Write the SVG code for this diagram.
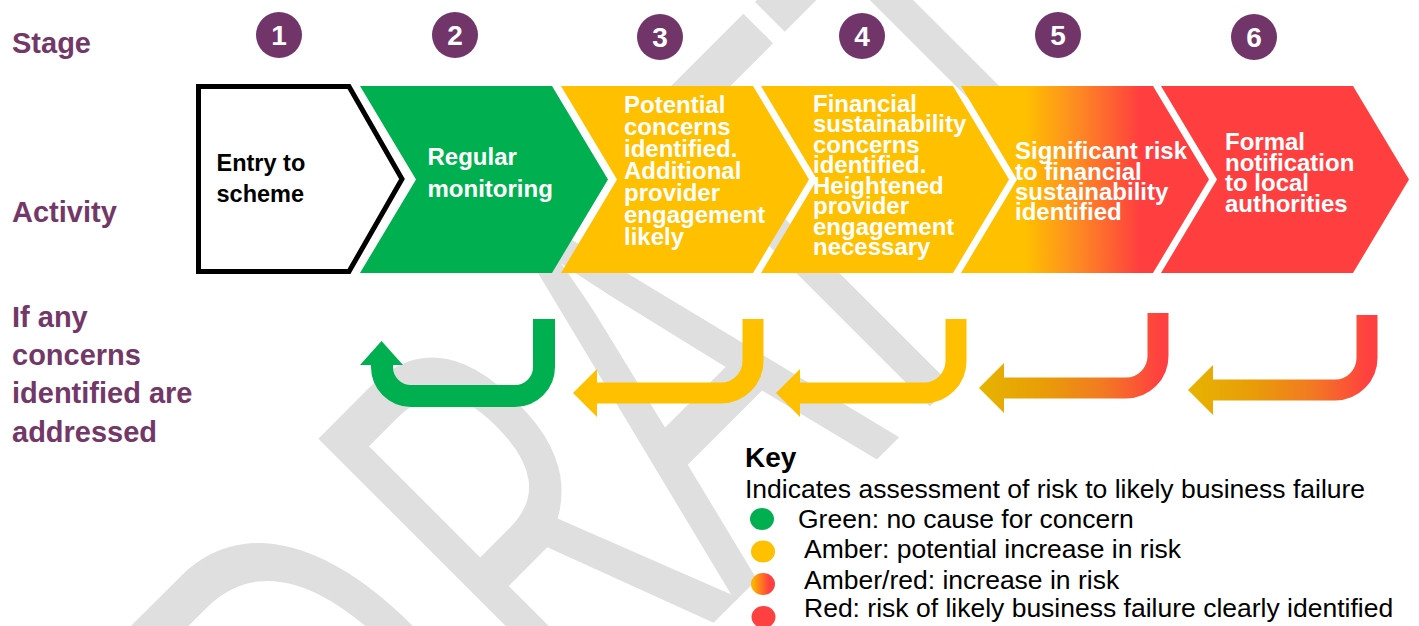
<svg xmlns="http://www.w3.org/2000/svg" width="1419" height="626" viewBox="0 0 1419 626">
  <defs>
    <!-- stage 5 fades from amber into red -->
    <linearGradient id="stage5Fill" x1="0" y1="0" x2="1" y2="0">
      <stop offset="0.26" stop-color="#ffc000"/>
      <stop offset="0.47" stop-color="#fd8a22"/>
      <stop offset="0.72" stop-color="#ff3f3f"/>
    </linearGradient>
    <!-- amber/red return arrows (local coordinates of the stage 5 arrow) -->
    <linearGradient id="returnFade" gradientUnits="userSpaceOnUse" x1="979" y1="0" x2="1169" y2="0">
      <stop offset="0" stop-color="#e6b400"/>
      <stop offset="0.35" stop-color="#e99c08"/>
      <stop offset="0.65" stop-color="#f27a22"/>
      <stop offset="0.95" stop-color="#ff4040"/>
    </linearGradient>
    <linearGradient id="dotFade" x1="0" y1="0" x2="1" y2="0">
      <stop offset="0.1" stop-color="#ffb000"/>
      <stop offset="0.75" stop-color="#ff4040"/>
    </linearGradient>
    <polygon id="chevron" points="0,86 192,86 248,179.5 192,273 0,273 56,179.5"/>
    <g id="amberReturn">
      <path d="M753,319 V361 A32,32 0 0 1 721,393 H596" fill="none" stroke="#ffc000" stroke-width="21"/>
      <polygon points="597,369 597,417 573,393" fill="#ffc000"/>
    </g>
    <g id="fadeReturn">
      <path d="M1158,313 V356 A32,32 0 0 1 1126,388 H1003" fill="none" stroke="url(#returnFade)" stroke-width="21"/>
      <polygon points="1004,363 1004,413 979,388" fill="url(#returnFade)"/>
    </g>
  </defs>
  <style>
    .lbl { font-family: "Liberation Sans", Arial, sans-serif; font-weight: bold; font-size: 29px; fill: #733868; }
    .badge { fill: #71356a; }
    .num { font-family: "Liberation Sans", Arial, sans-serif; font-weight: bold; font-size: 28px; fill: #ffffff; text-anchor: middle; }
    .ct { font-family: "Liberation Sans", Arial, sans-serif; font-weight: bold; font-size: 24px; fill: #ffffff; }
    .ct1 { font-family: "Liberation Sans", Arial, sans-serif; font-weight: bold; font-size: 23.5px; fill: #000000; }
    .key { font-family: "Liberation Sans", Arial, sans-serif; font-size: 26.5px; fill: #000000; }
    .keyh { font-family: "Liberation Sans", Arial, sans-serif; font-weight: bold; font-size: 28px; fill: #000000; }
    .wm { font-family: "Open Sans", "Noto Sans", sans-serif; font-size: 574px; fill: #dfdfdf; }
  </style>

  <rect width="1419" height="626" fill="#ffffff"/>

  <!-- background watermark -->
  <g id="watermark">
    <text class="wm" transform="rotate(-45) scale(0.64,1)" x="-617 -189 148 522 827" y="945">DRAFT</text>
  </g>

  <!-- row labels -->
  <g id="row-labels">
    <text class="lbl" x="12" y="53">Stage</text>
    <text class="lbl" x="12" y="222">Activity</text>
    <text class="lbl" x="12" y="327">If any</text>
    <text class="lbl" x="12" y="365">concerns</text>
    <text class="lbl" x="12" y="403">identified are</text>
    <text class="lbl" x="12" y="442">addressed</text>
  </g>

  <!-- stage numbers -->
  <g id="badge-1"><circle class="badge" cx="279" cy="35" r="23"/><text class="num" x="279" y="45">1</text></g>
  <g id="badge-2"><circle class="badge" cx="455" cy="35" r="23"/><text class="num" x="455" y="45">2</text></g>
  <g id="badge-3"><circle class="badge" cx="660" cy="37" r="23"/><text class="num" x="660" y="47">3</text></g>
  <g id="badge-4"><circle class="badge" cx="862" cy="36" r="23"/><text class="num" x="862" y="46">4</text></g>
  <g id="badge-5"><circle class="badge" cx="1058" cy="35" r="23"/><text class="num" x="1058" y="45">5</text></g>
  <g id="badge-6"><circle class="badge" cx="1254" cy="37" r="23"/><text class="num" x="1254" y="47">6</text></g>

  <!-- stage activities -->
  <g id="stage-1">
    <polygon points="198.5,86.5 349,86.5 402,179 349,271.5 198.5,271.5" fill="#ffffff" stroke="#000000" stroke-width="5"/>
    <text class="ct1" x="216.5" y="171">Entry to</text>
    <text class="ct1" x="216.5" y="202">scheme</text>
  </g>
  <g id="stage-2">
    <use href="#chevron" x="360" fill="#00b050"/>
    <text class="ct" x="427.5" y="165" font-size="23.5">Regular</text>
    <text class="ct" x="427.5" y="196.5" font-size="23.5">monitoring</text>
  </g>
  <g id="stage-3">
    <use href="#chevron" x="561" fill="#ffc000"/>
    <text class="ct" x="624" y="113">Potential</text>
    <text class="ct" x="624" y="135">concerns</text>
    <text class="ct" x="624" y="157">identified.</text>
    <text class="ct" x="624" y="179">Additional</text>
    <text class="ct" x="624" y="201">provider</text>
    <text class="ct" x="624" y="223">engagement</text>
    <text class="ct" x="624" y="245">likely</text>
  </g>
  <g id="stage-4">
    <use href="#chevron" x="761" fill="#ffc000"/>
    <text class="ct" x="813" y="111.7">Financial</text>
    <text class="ct" x="813" y="132.2">sustainability</text>
    <text class="ct" x="813" y="152.7">concerns</text>
    <text class="ct" x="813" y="173.2">identified.</text>
    <text class="ct" x="813" y="193.7">Heightened</text>
    <text class="ct" x="813" y="214.2">provider</text>
    <text class="ct" x="813" y="234.7">engagement</text>
    <text class="ct" x="813" y="255.2">necessary</text>
  </g>
  <g id="stage-5">
    <polygon points="961,86 1153,86 1209,179.5 1153,273 961,273 1017,179.5" fill="url(#stage5Fill)"/>
    <text class="ct" x="1015" y="159.3">Significant risk</text>
    <text class="ct" x="1015" y="179.6">to financial</text>
    <text class="ct" x="1015" y="199.9">sustainability</text>
    <text class="ct" x="1015" y="220.2">identified</text>
  </g>
  <g id="stage-6">
    <use href="#chevron" x="1161" fill="#ff3f3f"/>
    <text class="ct" x="1225" y="150">Formal</text>
    <text class="ct" x="1225" y="170.6">notification</text>
    <text class="ct" x="1225" y="191.2">to local</text>
    <text class="ct" x="1225" y="211.8">authorities</text>
  </g>

  <!-- return arrows -->
  <g id="connectors">
    <g id="return-2">
      <path d="M544,319 V367 A29,29 0 0 1 515,396 H411 A29,29 0 0 1 382,367 V364" fill="none" stroke="#00b050" stroke-width="22"/>
      <polygon points="360,365 403,365 381.5,341" fill="#00b050"/>
    </g>
    <use id="return-3" href="#amberReturn"/>
    <use id="return-4" href="#amberReturn" transform="translate(203,0)"/>
    <use id="return-5" href="#fadeReturn"/>
    <use id="return-6" href="#fadeReturn" transform="translate(209,2)"/>
  </g>

  <!-- key -->
  <g id="key">
    <text class="keyh" x="745" y="467">Key</text>
    <text class="key" x="745" y="498">Indicates assessment of risk to likely business failure</text>
    <ellipse cx="762" cy="519" rx="12" ry="11" fill="#00b050"/>
    <text class="key" x="798" y="528">Green: no cause for concern</text>
    <ellipse cx="763" cy="551.5" rx="12" ry="11" fill="#ffc000"/>
    <text class="key" x="804" y="558">Amber: potential increase in risk</text>
    <ellipse cx="763" cy="584" rx="12" ry="11" fill="url(#dotFade)"/>
    <text class="key" x="804" y="588.5">Amber/red: increase in risk</text>
    <ellipse cx="763.5" cy="617" rx="12" ry="11" fill="#ff4040"/>
    <text class="key" x="804" y="617">Red: risk of likely business failure clearly identified</text>
  </g>
</svg>
